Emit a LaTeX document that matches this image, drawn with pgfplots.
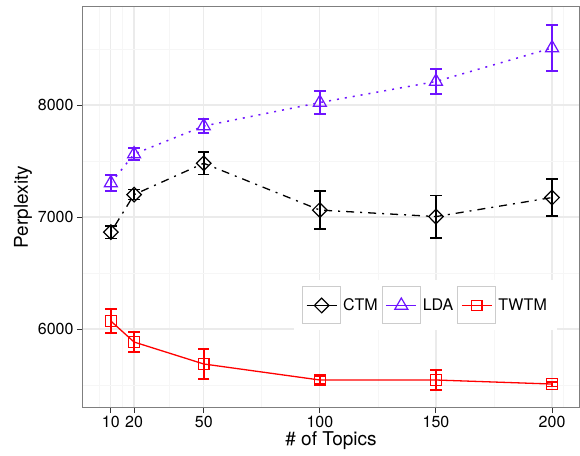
\documentclass[border=0pt]{standalone}
\usepackage{fontspec}
\setmainfont{TeX Gyre Heros}
\usepackage{pgfplots}
\usepackage{pgfplotstable}
\pgfplotsset{compat=1.18}

\definecolor{ldacol}{RGB}{110,20,255}
\definecolor{twtmcol}{RGB}{255,0,0}
\definecolor{gridmaj}{RGB}{235,235,235}
\definecolor{gridmin}{RGB}{246,246,246}
\definecolor{framecol}{RGB}{127,127,127}

% perplexity, mean and error (half width)
\pgfplotstableread{
x    y     e
10   6865  55
20   7200  45
50   7480  100
100  7062  170
150  7004  190
200  7174  165
}\ctm
\pgfplotstableread{
x    y     e
10   7304  70
20   7562  55
50   7812  62
100  8022  102
150  8210  112
200  8509  205
}\lda
\pgfplotstableread{
x    y     e
10   6071  107
20   5884  88
50   5688  133
100  5545  35
150  5545  88
200  5509  20
}\twtm

\begin{document}
\begin{tikzpicture}
\useasboundingbox (-83pt,-48pt) rectangle (497pt,407pt);
\begin{axis}[
  at={(0,0)}, anchor=south west,
  scale only axis,
  width=496pt, height=400pt,
  xmin=-2, xmax=211.6,
  ymin=5304, ymax=8875,
  xtick={10,20,50,100,150,200},
  minor xtick={5,15,35,75,125,175,205},
  ytick={6000,7000,8000},
  minor ytick={5500,6500,7500,8500},
  grid=both,
  major grid style={gridmaj, line width=1.2pt},
  minor grid style={gridmin, line width=0.8pt},
  axis line style={framecol, line width=1pt},
  tick align=outside, tick pos=left,
  major tick length=6pt, minor tick length=0pt,
  tick style={black!80, line width=1pt},
  /pgf/number format/assume math mode=true,
  /pgf/number format/1000 sep={},
  ticklabel style={font=\fontsize{16}{19}\selectfont},
  label style={font=\fontsize{19}{23}\selectfont},
  xlabel={\# of Topics},
  ylabel={Perplexity},
  xlabel style={at={(axis description cs:0.5,-0.085)}, anchor=center},
  ylabel style={at={(axis description cs:-0.121,0.5)}, anchor=center},
  legend columns=3,
  legend style={at={(axis description cs:0.6905,0.2538)}, anchor=center,
    draw=none, fill=white, inner xsep=8pt, inner ysep=6pt,
    font=\fontsize{16}{19}\selectfont,
    /tikz/every even column/.append style={column sep=2pt}},
  legend image code/.code={%
    \draw[draw=black!20, line width=1pt, solid, fill=white] (0pt,-18.5pt) rectangle (38pt,18.5pt);
    \draw[solid, mark repeat=2, mark phase=2] plot coordinates {(4pt,0pt) (19pt,0pt) (34pt,0pt)};
  },
  error bars/y dir=both,
  error bars/y explicit,
]
\addplot[black, line width=1.3pt, dash pattern=on 2pt off 6pt on 8pt off 6pt,
  mark=diamond, mark size=7.3pt, mark options={solid, xscale=1.33, line width=1.2pt},
  error bars/error bar style={solid, line width=1.5pt},
  error bars/error mark options={rotate=90, mark size=5.7pt, line width=1.5pt, solid}]
  table[x=x, y=y, y error=e] {\ctm};
\addlegendentry{CTM}
\addplot[ldacol, line width=1.5pt, dash pattern=on 2pt off 6pt,
  mark=triangle, mark size=7.5pt, mark options={solid, line width=1.2pt},
  error bars/error bar style={solid, line width=1.5pt},
  error bars/error mark options={rotate=90, mark size=5.7pt, line width=1.5pt, solid}]
  table[x=x, y=y, y error=e] {\lda};
\addlegendentry{LDA}
\addplot[twtmcol, line width=1.3pt, solid,
  mark=square, mark size=5.3pt, mark options={solid, line width=1.2pt},
  error bars/error bar style={solid, line width=1.5pt},
  error bars/error mark options={rotate=90, mark size=5.7pt, line width=1.5pt, solid}]
  table[x=x, y=y, y error=e] {\twtm};
\addlegendentry{TWTM}
\end{axis}
\end{tikzpicture}
\end{document}
